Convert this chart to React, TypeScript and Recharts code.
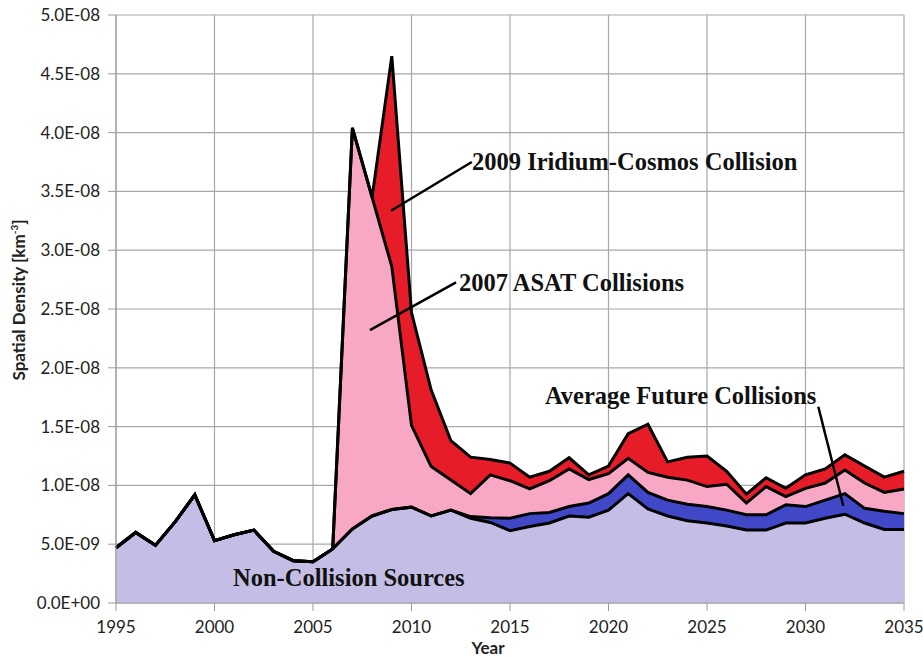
import {
  ComposedChart,
  Area,
  Line,
  XAxis,
  YAxis,
  CartesianGrid,
  ReferenceLine,
} from 'recharts';

// spatial density, in units of 1E-09 km^-3
const years = [
  1995, 1996, 1997, 1998, 1999, 2000, 2001, 2002, 2003, 2004,
  2005, 2006, 2007, 2008, 2009, 2010, 2011, 2012, 2013, 2014,
  2015, 2016, 2017, 2018, 2019, 2020, 2021, 2022, 2023, 2024,
  2025, 2026, 2027, 2028, 2029, 2030, 2031, 2032, 2033, 2034, 2035,
];

const nonCollision = [
  4.7, 6.0, 4.9, 6.9, 9.2, 5.3, 5.8, 6.2, 4.4, 3.6,
  3.5, 4.6, 6.3, 7.4, 7.95, 8.15, 7.4, 7.9, 7.2, 6.85,
  6.15, 6.5, 6.8, 7.4, 7.3, 7.9, 9.3, 8.0, 7.4, 7.0,
  6.8, 6.55, 6.2, 6.2, 6.8, 6.8, 7.2, 7.55, 6.8, 6.25, 6.25,
];

const futureCollisions = [
  0, 0, 0, 0, 0, 0, 0, 0, 0, 0,
  0, 0, 0, 0, 0, 0, 0, 0, 0.15, 0.4,
  1.05, 1.1, 0.9, 0.8, 1.2, 1.4, 1.6, 1.4, 1.35, 1.4,
  1.4, 1.35, 1.3, 1.3, 1.55, 1.4, 1.55, 1.75, 1.25, 1.55, 1.35,
];

const asatCollisions = [
  0, 0, 0, 0, 0, 0, 0, 0, 0, 0,
  0, 0, 34.1, 27.1, 20.65, 6.95, 4.2, 2.55, 1.95, 3.65,
  3.2, 2.1, 2.7, 3.2, 2.0, 1.7, 1.4, 1.7, 1.95, 2.05,
  1.7, 2.2, 1.0, 2.4, 0.7, 1.55, 1.45, 2.0, 2.15, 1.6, 2.1,
];

const iridiumCosmos = [
  0, 0, 0, 0, 0, 0, 0, 0, 0, 0,
  0, 0, 0, 0, 17.9, 9.6, 6.5, 3.35, 3.1, 1.3,
  1.5, 1.0, 0.8, 0.95, 0.4, 0.65, 2.1, 4.1, 1.3, 1.95,
  2.6, 1.1, 0.75, 0.75, 0.7, 1.15, 1.2, 1.3, 1.45, 1.3, 1.5,
];

const xTicks = [1995, 2000, 2005, 2010, 2015, 2020, 2025, 2030, 2035];
const yTicks = [0, 5, 10, 15, 20, 25, 30, 35, 40, 45, 50];

const LAVENDER = '#c4bee6';
const BLUE = '#4048c8';
const PINK = '#f8a8c4';
const RED = '#e61c28';

// cumulative boundaries of the layered areas
const rows = years.map((year, i) => {
  const nc = nonCollision[i];
  const fut = nc + futureCollisions[i];
  const asat = fut + asatCollisions[i];
  const total = asat + iridiumCosmos[i];
  return { year, nc, fut, asat, total };
});

function sci(v: number) {
  if (v === 0) return '0.0E+00';
  const exp = Math.floor(Math.log10(v) + 1e-9) - 9;
  const mant = v / Math.pow(10, exp + 9);
  return mant.toFixed(1) + 'E' + (exp < 0 ? '-' : '+') + String(Math.abs(exp)).padStart(2, '0');
}

const tickStyle = { fontSize: 17, fill: '#222', fontFamily: 'Lato' };
const noteStyle: React.CSSProperties = {
  position: 'absolute',
  fontFamily: '"Liberation Serif", "Times New Roman", serif',
  fontWeight: 'bold',
  fontSize: 24.5,
  lineHeight: '24px',
  color: '#111',
  whiteSpace: 'nowrap',
};

export default function App() {
  return (
    <div style={{ position: 'relative', width: 923, height: 657, overflow: 'hidden' }}>
      <style>{'body { margin: 0; }'}</style>
      <ComposedChart
        width={923}
        height={657}
        data={rows}
        margin={{ top: 15, right: 19, bottom: 0, left: 0 }}
      >
        <CartesianGrid stroke="#a8a8a8" strokeWidth={1.2} />
        <XAxis
          dataKey="year"
          type="number"
          domain={[1995, 2035]}
          ticks={xTicks}
          interval={0}
          height={54}
          tickSize={8}
          tickMargin={10}
          stroke="#9a9a9a"
          tick={tickStyle}
        />
        <YAxis
          type="number"
          domain={[0, 50]}
          ticks={yTicks}
          interval={0}
          width={116}
          tickSize={8}
          tickMargin={8}
          stroke="#9a9a9a"
          tick={tickStyle}
          tickFormatter={sci}
        />
        <Area type="linear" dataKey="total" stroke="none" fill={RED} fillOpacity={1} isAnimationActive={false} />
        <Area type="linear" dataKey="asat" stroke="none" fill={PINK} fillOpacity={1} isAnimationActive={false} />
        <Area type="linear" dataKey="fut" stroke="none" fill={BLUE} fillOpacity={1} isAnimationActive={false} />
        <Area type="linear" dataKey="nc" stroke="none" fill={LAVENDER} fillOpacity={1} isAnimationActive={false} />
        <Line type="linear" dataKey="nc" stroke="#000" strokeWidth={3} dot={false} isAnimationActive={false} />
        <Line type="linear" dataKey="fut" stroke="#000" strokeWidth={3} dot={false} isAnimationActive={false} />
        <Line type="linear" dataKey="asat" stroke="#000" strokeWidth={3} dot={false} isAnimationActive={false} />
        <Line type="linear" dataKey="total" stroke="#000" strokeWidth={3} dot={false} isAnimationActive={false} />
        <ReferenceLine
          segment={[{ x: 2013.06, y: 37.5 }, { x: 2008.96, y: 33.35 }]}
          stroke="#000"
          strokeWidth={2.5}
        />
        <ReferenceLine
          segment={[{ x: 2012.26, y: 27.26 }, { x: 2007.89, y: 23.2 }]}
          stroke="#000"
          strokeWidth={2.5}
        />
        <ReferenceLine
          segment={[{ x: 2030.65, y: 16.69 }, { x: 2031.92, y: 8.25 }]}
          stroke="#000"
          strokeWidth={2.5}
        />
      </ComposedChart>

      <div style={{ ...noteStyle, left: 472, top: 150 }}>2009 Iridium-Cosmos Collision</div>
      <div style={{ ...noteStyle, left: 459, top: 271 }}>2007 ASAT Collisions</div>
      <div style={{ ...noteStyle, left: 545, top: 384 }}>Average Future Collisions</div>
      <div style={{ ...noteStyle, left: 233, top: 566 }}>Non-Collision Sources</div>

      <div
        style={{
          position: 'absolute',
          left: 18,
          top: 300,
          transform: 'translate(-50%, -50%) rotate(-90deg)',
          fontFamily: 'Lato',
          fontWeight: 'bold',
          fontSize: 17,
          color: '#222',
          whiteSpace: 'nowrap',
        }}
      >
        Spatial Density [km<sup style={{ fontSize: 10 }}>-3</sup>]
      </div>
      <div
        style={{
          position: 'absolute',
          left: 488,
          top: 639,
          transform: 'translateX(-50%)',
          fontFamily: 'Lato',
          fontWeight: 'bold',
          fontSize: 17,
          lineHeight: '18px',
          color: '#222',
        }}
      >
        Year
      </div>
    </div>
  );
}
